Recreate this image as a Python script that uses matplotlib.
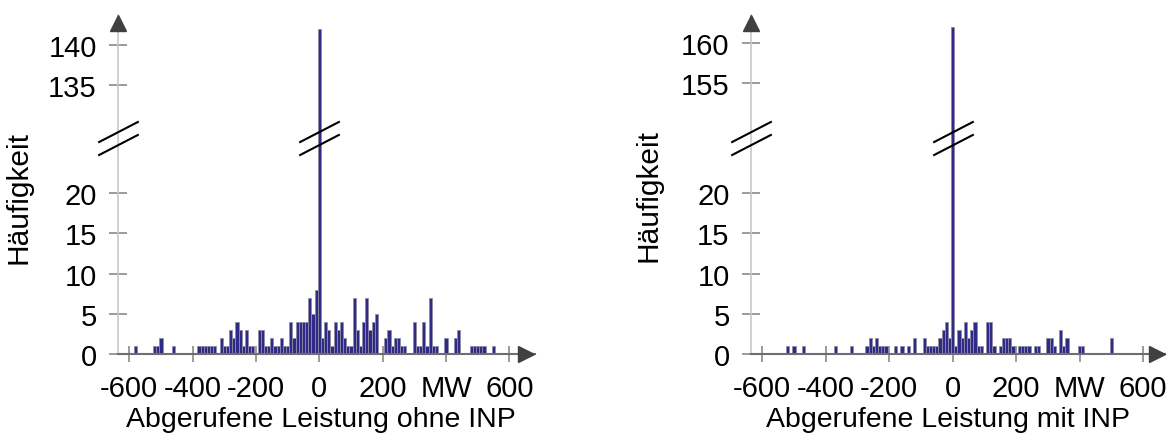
import numpy as np
import matplotlib
matplotlib.use("Agg")
import matplotlib.pyplot as plt
from matplotlib.path import Path

plt.rcParams['font.family'] = ['Liberation Sans', 'DejaVu Sans']

# --- data: histogram bins (bin centre in MW, count) ---
ohne_mw = [-580, -520, -510, -500, -460,
           -380, -370, -360, -350, -340, -330,
           -310, -300, -290, -280, -270, -260, -250, -240, -230, -220, -210,
           -190, -180, -170, -160, -150, -140, -130, -120, -110, -100,
           -90, -80, -70, -60, -50, -40, -30, -20, -10, 0,
           10, 20, 30, 40, 50, 60, 70, 80, 90, 100, 110, 120, 130, 140, 150, 160, 170, 180,
           210, 220, 230, 240, 250, 260, 270,
           300, 310, 320, 330, 340, 350, 360, 370,
           400, 430, 440, 480, 490, 500, 510, 520, 550]
ohne_count = [1, 1, 1, 2, 1,
              1, 1, 1, 1, 1, 1,
              2, 1, 1, 3, 2, 4, 3, 1, 3, 1, 1,
              3, 3, 1, 1, 2, 1, 1, 2, 1, 1,
              4, 2, 4, 4, 4, 4, 7, 5, 8, 142,
              2, 4, 3, 1, 4, 3, 4, 2, 1, 1, 7, 3, 1, 4, 7, 3, 4, 5,
              2, 3, 1, 2, 2, 1, 1,
              4, 1, 1, 4, 1, 7, 1, 1,
              2, 2, 3, 1, 1, 1, 1, 1, 1]

mit_mw = [-520, -500, -470, -370, -320,
          -270, -260, -250, -240, -230, -220, -210,
          -180, -160, -140, -120,
          -90, -80, -70, -60, -50, -40, -30, -20, -10, 0,
          10, 20, 30, 40, 50, 60, 70, 80, 90, 110, 120, 130,
          150, 160, 170, 180, 190,
          210, 220, 230, 240, 260, 270, 300, 310, 320, 340, 350, 360,
          400, 410, 500]
mit_count = [1, 1, 1, 1, 1,
             1, 2, 1, 2, 1, 1, 1,
             1, 1, 1, 2,
             2, 1, 1, 1, 1, 2, 3, 4, 2, 162,
             1, 3, 2, 4, 2, 3, 4, 1, 1, 4, 4, 1,
             1, 2, 2, 2, 1,
             1, 1, 1, 1, 1, 1, 2, 2, 1, 3, 1, 2,
             1, 1, 2]

x_ticks = [-600, -400, -200, 0, 200, 400, 600]
x_ticklabels = ['-600', '-400', '-200', '0', '200', 'MW', '600']
ohne_yticks = [0, 5, 10, 15, 20, 135, 140]
mit_yticks = [0, 5, 10, 15, 20, 155, 160]

BIN = 10
TOP = 42.2       # visible range on the compressed axis
BREAK_AT = 26.9  # where the // marks sit


def make_break(off, lo=27.0, k=0.01):
    # squeeze everything between lo and lo+off into a tiny gap
    hi = lo + off / (1 - k)
    gap_top = lo + (hi - lo) * k

    def fwd(v):
        v = np.asarray(v, dtype=float)
        return np.where(v <= lo, v, np.where(v >= hi, v - off, lo + (v - lo) * k))

    def inv(d):
        d = np.asarray(d, dtype=float)
        return np.where(d <= lo, d, np.where(d >= gap_top, d + off, lo + (d - lo) / k))
    return fwd, inv


# two parallel slashes as a marker
slash = Path([(-20.3, -4.0), (20.3, 17.0), (-20.3, -17.0), (20.3, 4.0)],
             [Path.MOVETO, Path.LINETO, Path.MOVETO, Path.LINETO])

fig = plt.figure(figsize=(11.74, 4.39), dpi=100)


def panel(rect, mw, count, yticks, off, xmax, xlabel, xlab_x, ylab_x, ylab_y):
    ax = fig.add_axes(rect)
    fwd, inv = make_break(off)
    ax.set_yscale('function', functions=(fwd, inv))
    ax.bar(mw, count, width=BIN, color='#2E2A86', edgecolor='#8E8CA6', linewidth=0.6, zorder=2)
    ax.set_xlim(-635, xmax)
    ax.set_ylim(0, float(inv(TOP)))

    ax.spines['top'].set_visible(False)
    ax.spines['right'].set_visible(False)
    ax.spines['left'].set_color('#c8c8c8')
    ax.spines['left'].set_linewidth(1.2)
    ax.spines['bottom'].set_color('#6e6e6e')
    ax.spines['bottom'].set_linewidth(1.5)
    ax.spines['bottom'].set_zorder(3)

    ax.set_xticks(x_ticks)
    ax.set_xticklabels(x_ticklabels)
    ax.set_yticks(yticks)
    ax.set_yticklabels([str(t) for t in yticks])
    ax.yaxis.set_minor_locator(matplotlib.ticker.NullLocator())
    ax.tick_params(axis='x', direction='inout', length=11, width=1.1, color='#808080',
                   pad=9, labelsize=21)
    ax.tick_params(axis='y', direction='inout', length=13, width=1.1, color='#808080',
                   pad=9, labelsize=21)

    ax.set_xlabel(xlabel, fontsize=20.5)
    ax.xaxis.set_label_coords(xlab_x, -0.153)
    ax.set_ylabel('Häufigkeit', fontsize=21.5)
    ax.yaxis.set_label_coords(ylab_x, ylab_y)

    # arrow heads
    ax.plot([0], [1 - 8 / 339.3], marker='^', markersize=11.5, color='#404040',
            transform=ax.transAxes, clip_on=False, zorder=5)
    ax.plot([1 - 8.5 / 416.5], [0], marker='>', markersize=12, color='#404040',
            transform=ax.transAxes, clip_on=False, zorder=5)

    # axis break marks on the y axis and across the tall bar
    yb = BREAK_AT / TOP
    ax.plot([0], [yb], marker=slash, markersize=29.2, mew=1.5, color='black',
            linestyle='none', transform=ax.transAxes, clip_on=False, zorder=6)
    ax.plot([0], [yb], marker=slash, markersize=29.2, mew=1.5, color='black',
            linestyle='none', transform=ax.get_xaxis_transform(), clip_on=False, zorder=6)
    return ax


panel([0.1007, 0.19134, 0.3548, 0.7729], ohne_mw, ohne_count, ohne_yticks, 101.6, 680,
      'Abgerufene Leistung ohne INP', 0.486, -0.205, 0.464)
panel([0.6398, 0.19134, 0.3529, 0.7729], mit_mw, mit_count, mit_yticks, 121.35, 670,
      'Abgerufene Leistung mit INP', 0.474, -0.213, 0.471)

fig.savefig('out.png', dpi=100)
